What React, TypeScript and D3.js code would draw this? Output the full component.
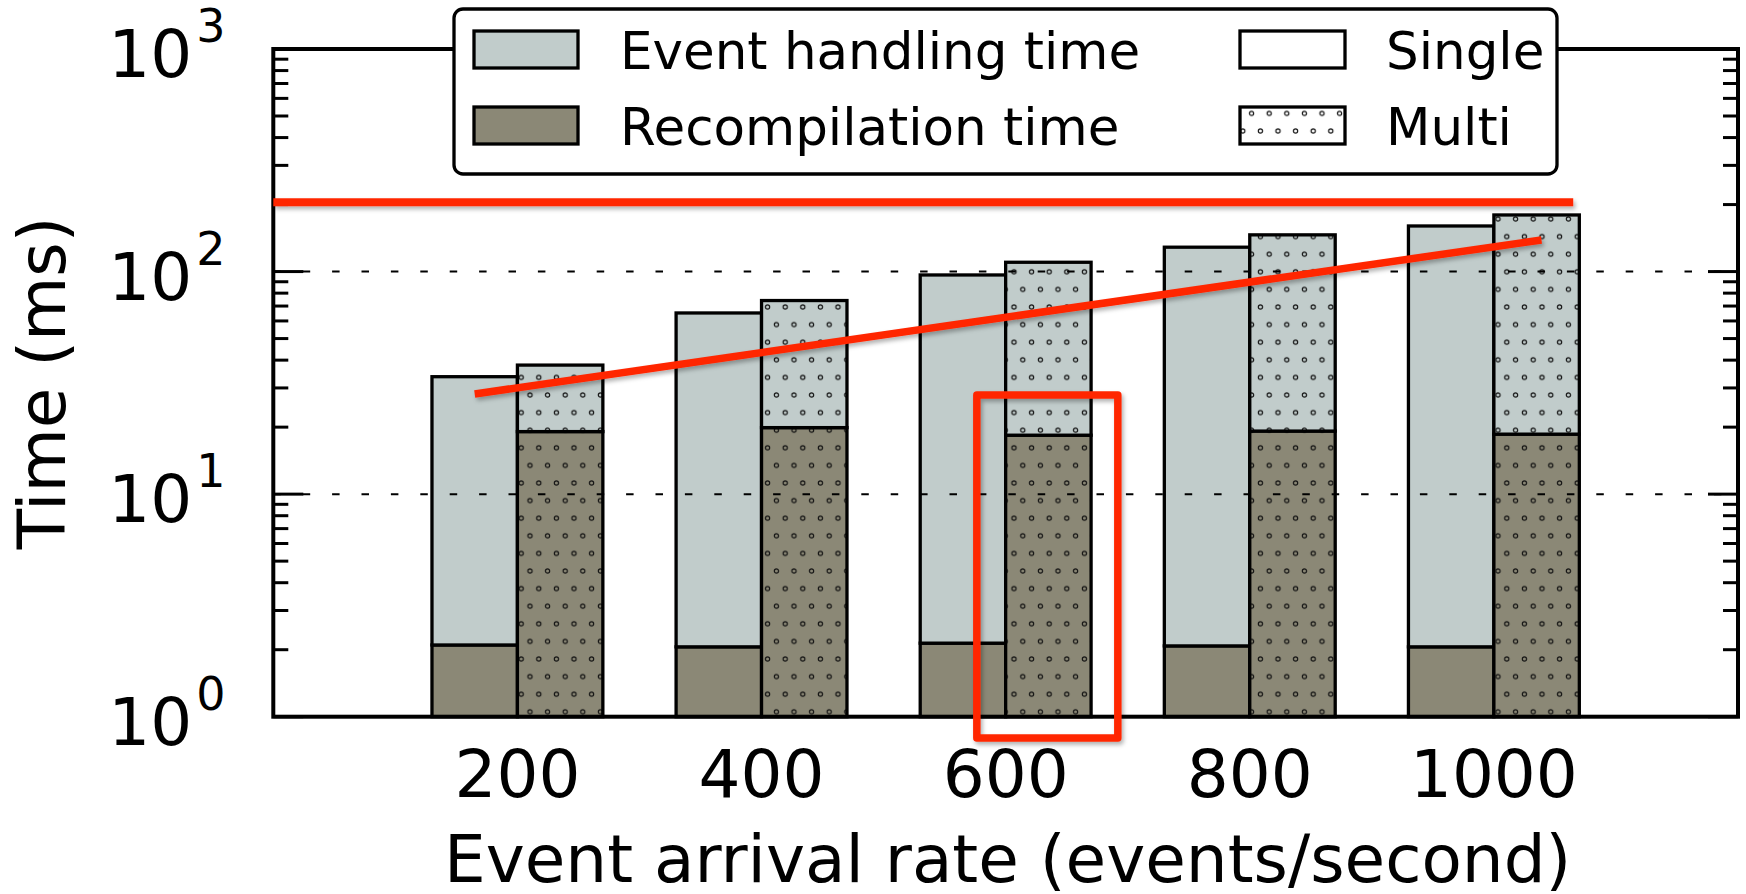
import React from "react";
import * as d3 from "d3";

const categories = [200, 400, 600, 800, 1000];
const singleRecompilation = [2.1, 2.06, 2.14, 2.08, 2.06];
const singleEventHandling = [31.6, 63.1, 94.4, 126.6, 158.2];
const multiRecompilation = [19.1, 19.9, 18.4, 19.2, 18.6];
const multiEventHandling = [18.9, 54.2, 91.7, 127.0, 161.0];
const yTickExponents = [0, 1, 2, 3];
const gridValues = [10, 100];
const legendLabels = ["Event handling time", "Recompilation time", "Single", "Multi"];
const xLabel = "Event arrival rate (events/second)";
const yLabel = "Time (ms)";
// red annotations (data coordinates)
const redHLine = { x0: 0, x1: 1065, y: 205 };
const redTrend = { x0: 165, y0: 28.2, x1: 1039, y1: 138.7 };
const redBox = { x0: 576.4, x1: 691.9, y0: 0.802, y1: 27.9 };

const W = 1746;
const H = 894;
const LIGHT = "#c1cccb";
const DARK = "#8b8876";
const RED = "#ff2600";
const FONT = "'DejaVu Sans', sans-serif";

export default function App() {
  const x = d3.scaleLinear().domain([0, 1200]).range([273.3, 1738]);
  const y = d3.scaleLog().domain([1, 1000]).range([716.7, 49]);
  const bw = x(70) - x(0);

  const minor: number[] = [];
  for (let k = 0; k < 3; k++) for (let m = 2; m <= 9; m++) minor.push(m * Math.pow(10, k));

  const bars: any[] = [];
  categories.forEach((c, i) => {
    const groups = [
      { x0: x(c) - bw, rec: singleRecompilation[i], ev: singleEventHandling[i], hatch: false },
      { x0: x(c), rec: multiRecompilation[i], ev: multiEventHandling[i], hatch: true },
    ];
    groups.forEach((g, j) => {
      const segs = [
        { lo: 1, hi: g.rec, color: DARK },
        { lo: g.rec, hi: g.rec + g.ev, color: LIGHT },
      ];
      segs.forEach((s, k) => {
        const yt = y(s.hi);
        const yb = y(s.lo);
        bars.push(
          <g key={`b${i}-${j}-${k}`}>
            <rect x={g.x0} y={yt} width={bw} height={yb - yt} fill={s.color} />
            {g.hatch && <rect x={g.x0} y={yt} width={bw} height={yb - yt} fill="url(#dots)" />}
            <rect x={g.x0} y={yt} width={bw} height={yb - yt} fill="none" stroke="#000" strokeWidth={3.3} />
          </g>
        );
      });
    });
  });

  const left = x(0);
  const right = x(1200);
  const top = y(1000);
  const bottom = y(1);

  return (
    <svg width={W} height={H} style={{ position: "absolute", left: 0, top: 0, background: "#fff" }} fontFamily={FONT}>
      <defs>
        <pattern id="dots" patternUnits="userSpaceOnUse" x={525.6} y={386.2} width={17.6} height={35.2}>
          <circle cx={4.4} cy={8.8} r={2.1} fill="none" stroke="#111" strokeWidth={1.2} />
          <circle cx={13.2} cy={26.4} r={2.1} fill="none" stroke="#111" strokeWidth={1.2} />
        </pattern>
        <filter id="shadow" x="-10%" y="-10%" width="120%" height="130%">
          <feDropShadow dx={2} dy={3} stdDeviation={2} floodColor="#000" floodOpacity={0.3} />
        </filter>
      </defs>
      <rect width={W} height={H} fill="#fff" />
      {bars}
      {gridValues.map((v) => (
        <line key={`g${v}`} x1={left} x2={right} y1={y(v)} y2={y(v)} stroke="#000" strokeWidth={2} strokeDasharray="7.5,21.9" />
      ))}
      {minor.map((v) => (
        <g key={`m${v}`}>
          <line x1={left} x2={left + 15} y1={y(v)} y2={y(v)} stroke="#000" strokeWidth={3} />
          <line x1={right} x2={right - 15} y1={y(v)} y2={y(v)} stroke="#000" strokeWidth={3} />
        </g>
      ))}
      {yTickExponents.map((e) => {
        const v = Math.pow(10, e);
        return (
          <g key={`M${e}`}>
            <line x1={left} x2={left + 30} y1={y(v)} y2={y(v)} stroke="#000" strokeWidth={3} />
            <line x1={right} x2={right - 30} y1={y(v)} y2={y(v)} stroke="#000" strokeWidth={3} />
            <text x={left - 165} y={y(v) + 28} fontSize={66} fill="#000">10</text>
            <text x={left - 77} y={y(v) - 7} fontSize={46} fill="#000">{e}</text>
          </g>
        );
      })}
      <rect x={left} y={top} width={right - left} height={bottom - top} fill="none" stroke="#000" strokeWidth={4} />
      {categories.map((c) => (
        <text key={`xt${c}`} x={x(c)} y={797} fontSize={66} textAnchor="middle" fill="#000">{c}</text>
      ))}
      <text x={(left + right) / 2 + 2} y={882} fontSize={66} textAnchor="middle" fill="#000">{xLabel}</text>
      <text transform={`translate(65,${(top + bottom) / 2}) rotate(-90)`} fontSize={66} textAnchor="middle" fill="#000">{yLabel}</text>
      <g filter="url(#shadow)">
        <line x1={x(redHLine.x0)} x2={x(redHLine.x1)} y1={y(redHLine.y)} y2={y(redHLine.y)} stroke={RED} strokeWidth={8} />
        <line x1={x(redTrend.x0)} y1={y(redTrend.y0)} x2={x(redTrend.x1)} y2={y(redTrend.y1)} stroke={RED} strokeWidth={7.5} />
        <rect x={x(redBox.x0)} y={y(redBox.y1)} width={x(redBox.x1) - x(redBox.x0)} height={y(redBox.y0) - y(redBox.y1)} fill="none" stroke={RED} strokeWidth={7.5} strokeLinejoin="round" />
      </g>
      <rect x={454} y={9} width={1103} height={165} rx={9} fill="#fff" stroke="#000" strokeWidth={3.3} />
      <rect x={474} y={31} width={104} height={37} fill={LIGHT} stroke="#000" strokeWidth={3.3} />
      <rect x={474} y={107} width={104} height={37} fill={DARK} stroke="#000" strokeWidth={3.3} />
      <rect x={1240} y={31} width={105} height={37} fill="#fff" stroke="#000" strokeWidth={3.3} />
      <rect x={1240} y={107} width={105} height={37} fill="#fff" />
      <rect x={1240} y={107} width={105} height={37} fill="url(#dots)" />
      <rect x={1240} y={107} width={105} height={37} fill="none" stroke="#000" strokeWidth={3.3} />
      <text x={620} y={69} fontSize={51.5} fill="#000">{legendLabels[0]}</text>
      <text x={620} y={145} fontSize={51.5} fill="#000">{legendLabels[1]}</text>
      <text x={1386} y={69} fontSize={51.5} fill="#000">{legendLabels[2]}</text>
      <text x={1386} y={145} fontSize={51.5} fill="#000">{legendLabels[3]}</text>
    </svg>
  );
}
